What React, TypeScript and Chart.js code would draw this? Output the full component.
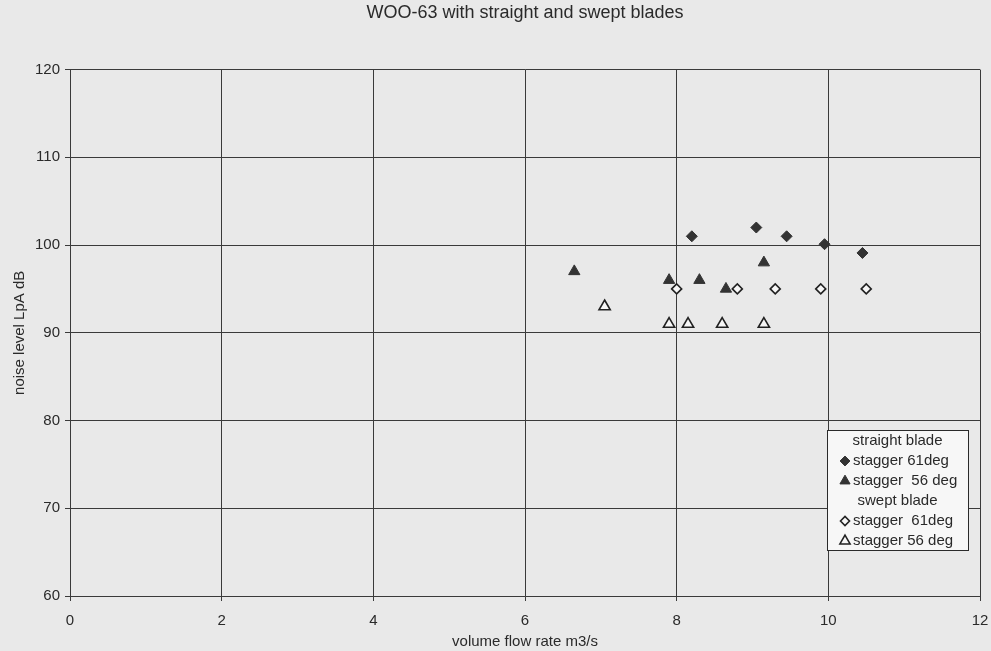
import React, { useEffect, useRef } from "react";
import { Chart, registerables } from "chart.js";
import { drawPoint } from "chart.js/helpers";

Chart.register(...registerables);

const chartTitle = "WOO-63 with straight and swept blades";
const xAxisTitle = "volume flow rate m3/s";
const yAxisTitle = "noise level LpA dB";

const xMin = 0;
const xMax = 12;
const xStep = 2;
const yMin = 60;
const yMax = 120;
const yStep = 10;

const straightHeader = "straight blade";
const sweptHeader = "swept blade";

const straight61Label = "stagger 61deg";
const straight61X = [8.2, 9.05, 9.45, 9.95, 10.45];
const straight61Y = [101, 102, 101, 100.1, 99.1];

const straight56Label = "stagger  56 deg";
const straight56X = [6.65, 7.9, 8.3, 8.65, 9.15];
const straight56Y = [97, 96, 96, 95, 98];

const swept61Label = "stagger  61deg";
const swept61X = [8.0, 8.8, 9.3, 9.9, 10.5];
const swept61Y = [95, 95, 95, 95, 95];

const swept56Label = "stagger 56 deg";
const swept56X = [7.05, 7.9, 8.15, 8.6, 9.15];
const swept56Y = [93, 91, 91, 91, 91];

const FONT = "'Liberation Sans', Arial, sans-serif";
const INK = "#2a2a2a";
const PAPER = "#e9e9e9";
const WHITE = "#f7f7f7";

function pts(xs: number[], ys: number[]) {
  return xs.map((x, i) => ({ x, y: ys[i] }));
}

const backgroundPlugin = {
  id: "paperBg",
  beforeDraw(chart: any) {
    const { ctx, width, height } = chart;
    ctx.save();
    ctx.fillStyle = PAPER;
    ctx.fillRect(0, 0, width, height);
    ctx.restore();
  },
};

const legendPlugin = {
  id: "boxLegend",
  afterDraw(chart: any) {
    const { ctx, chartArea } = chart;
    const ds = chart.data.datasets;
    const w = 141;
    const h = 120;
    const right = chartArea.right - 12;
    const bottom = chartArea.bottom - 46;
    const left = right - w;
    const top = bottom - h;
    ctx.save();
    ctx.fillStyle = WHITE;
    ctx.fillRect(left, top, w, h);
    ctx.strokeStyle = INK;
    ctx.lineWidth = 1;
    ctx.strokeRect(Math.round(left) + 0.5, Math.round(top) + 0.5, w, h);
    ctx.font = `15px ${FONT}`;
    ctx.fillStyle = INK;
    ctx.textBaseline = "middle";
    const rows: any[] = [
      { header: straightHeader },
      { ds: ds[0] },
      { ds: ds[1] },
      { header: sweptHeader },
      { ds: ds[2] },
      { ds: ds[3] },
    ];
    rows.forEach((r, i) => {
      const y = top + 11 + i * 20;
      if (r.header) {
        ctx.textAlign = "center";
        ctx.fillStyle = INK;
        ctx.fillText(r.header, left + w / 2, y);
      } else {
        const d = r.ds;
        ctx.fillStyle = d.backgroundColor;
        ctx.strokeStyle = d.borderColor;
        ctx.lineWidth = d.borderWidth;
        drawPoint(
          ctx,
          {
            pointStyle: d.pointStyle,
            radius: d.pointRadius * 0.9,
            rotation: 0,
            borderWidth: d.borderWidth,
          } as any,
          left + 18,
          y
        );
        ctx.textAlign = "left";
        ctx.fillStyle = INK;
        ctx.fillText(d.label, left + 26, y);
      }
    });
    ctx.restore();
  },
};

export default function App() {
  const ref = useRef<HTMLCanvasElement | null>(null);

  useEffect(() => {
    if (!ref.current) return;
    const chart = new Chart(ref.current, {
      type: "scatter",
      data: {
        datasets: [
          {
            label: straight61Label,
            data: pts(straight61X, straight61Y),
            pointStyle: "rectRot",
            pointRadius: 5.5,
            backgroundColor: "#333333",
            borderColor: "#333333",
            borderWidth: 1,
          },
          {
            label: straight56Label,
            data: pts(straight56X, straight56Y),
            pointStyle: "triangle",
            pointRadius: 6.5,
            backgroundColor: "#333333",
            borderColor: "#333333",
            borderWidth: 1,
          },
          {
            label: swept61Label,
            data: pts(swept61X, swept61Y),
            pointStyle: "rectRot",
            pointRadius: 5,
            backgroundColor: WHITE,
            borderColor: "#222222",
            borderWidth: 1.6,
          },
          {
            label: swept56Label,
            data: pts(swept56X, swept56Y),
            pointStyle: "triangle",
            pointRadius: 6.5,
            backgroundColor: WHITE,
            borderColor: "#222222",
            borderWidth: 1.6,
          },
        ],
      },
      options: {
        responsive: false,
        animation: false,
        layout: { padding: { left: 0, right: 11, top: 0, bottom: 0 } },
        plugins: {
          legend: { display: false },
          tooltip: { enabled: false },
          title: {
            display: true,
            text: chartTitle,
            fullSize: false,
            color: INK,
            font: { family: FONT, size: 18, weight: "normal" },
            padding: { top: 2, bottom: 46 },
          },
        },
        scales: {
          x: {
            type: "linear",
            min: xMin,
            max: xMax,
            ticks: {
              stepSize: xStep,
              color: INK,
              padding: 11,
              font: { family: FONT, size: 15 },
              maxRotation: 0,
            },
            grid: { color: "#3a3a3a", lineWidth: 1, tickLength: 5 },
            border: { color: "#3a3a3a", width: 1 },
            title: {
              display: true,
              text: xAxisTitle,
              color: INK,
              font: { family: FONT, size: 15 },
              padding: { top: 0, bottom: 0 },
            },
            afterFit(scale: any) {
              scale.height = 55;
              scale.paddingLeft = 0;
              scale.paddingRight = 0;
            },
          },
          y: {
            type: "linear",
            min: yMin,
            max: yMax,
            ticks: {
              stepSize: yStep,
              color: INK,
              padding: 5,
              font: { family: FONT, size: 15 },
            },
            grid: { color: "#3a3a3a", lineWidth: 1, tickLength: 5 },
            border: { color: "#3a3a3a", width: 1 },
            title: {
              display: true,
              text: yAxisTitle,
              color: INK,
              font: { family: FONT, size: 15 },
              padding: { top: 11, bottom: 0 },
            },
            afterFit(scale: any) {
              scale.width = 70;
              scale.paddingTop = 0;
              scale.paddingBottom = 0;
            },
          },
        },
      },
      plugins: [backgroundPlugin, legendPlugin],
    });
    return () => chart.destroy();
  }, []);

  return (
    <div style={{ position: "fixed", left: 0, top: 0, width: 991, height: 651 }}>
      <canvas ref={ref} width={991} height={651} style={{ display: "block" }} />
    </div>
  );
}
